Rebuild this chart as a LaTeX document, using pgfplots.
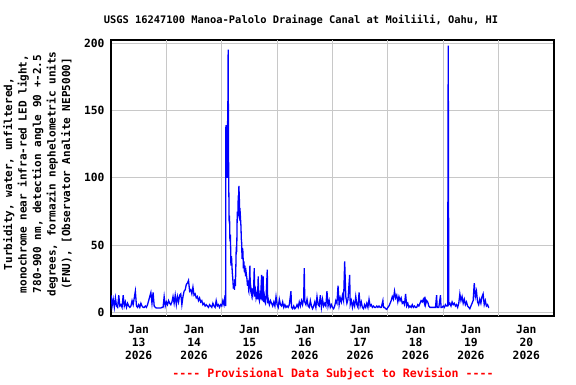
\documentclass[border=0pt]{standalone}
\usepackage{pgfplots}
\pgfplotsset{compat=1.18}
\usepackage{pgfplotstable}
\usepackage{fontspec}
\setmainfont{DejaVu Sans Mono}
\definecolor{gridgray}{HTML}{C8C8C8}
\pgfplotstableread{
x y
0.00 13
0.02 5
0.04 10
0.06 4
0.08 11
0.10 5
0.12 4
0.14 13
0.16 5
0.18 6
0.20 4
0.22 13
0.24 5
0.26 8
0.28 4
0.30 7
0.32 5
0.34 4
0.36 5
0.38 9
0.40 6
0.42 11
0.44 16
0.46 5
0.48 4
0.50 6
0.52 4
0.54 7
0.56 5
0.58 4
0.60 4
0.62 5
0.64 4
0.66 6
0.68 9
0.70 12
0.72 15
0.74 7
0.76 15
0.78 5
0.80 4
0.82 3.5
0.84 3.5
0.86 3.5
0.88 3.5
0.90 3.5
0.92 4
0.94 4
0.96 12
0.98 5
1.00 8
1.02 6
1.04 9
1.06 7
1.08 6
1.10 8
1.12 12
1.14 7
1.16 13
1.18 6
1.20 12
1.22 8
1.24 13
1.26 14
1.28 6
1.30 12
1.32 16
1.34 17
1.36 21
1.38 22
1.40 24
1.42 16
1.44 17
1.46 14
1.48 19
1.50 13
1.52 14
1.54 11
1.56 12
1.58 9
1.60 11
1.62 8
1.64 9
1.66 6
1.68 7
1.70 5
1.72 6
1.74 5
1.76 4
1.78 6
1.80 5
1.82 4
1.84 7
1.86 5
1.88 4
1.90 9
1.92 5
1.94 6
1.96 4
1.98 6
2.00 5
2.02 9
2.04 6
2.06 13
2.07 5
2.075 139
2.085 130
2.095 134
2.100 100
2.105 137
2.112 160
2.116 195
2.122 120
2.128 90
2.134 67
2.140 72
2.148 53
2.156 58
2.166 35
2.176 42
2.190 30
2.200 25
2.210 18
2.220 22
2.230 17
2.238 25
2.246 20
2.254 33
2.262 49
2.270 45
2.280 75
2.290 70
2.298 87
2.304 78
2.310 94
2.318 84
2.323 72
2.333 74
2.347 64
2.353 55
2.359 52
2.367 40
2.375 48
2.383 45
2.390 33
2.400 38
2.410 30
2.419 35
2.430 27
2.440 30
2.455 25
2.465 20
2.475 24
2.485 18
2.495 21
2.509 35
2.515 17
2.525 19
2.540 14
2.550 18
2.560 13
2.575 17
2.587 33
2.595 12
2.610 16
2.620 11
2.635 14
2.645 10
2.659 27
2.665 12
2.680 9
2.690 13
2.700 10
2.720 28
2.730 9
2.749 27
2.755 8
2.770 12
2.780 8
2.790 7
2.800 11
2.822 32
2.830 7
2.840 10
2.860 6
2.880 9
2.900 7
2.920 5
2.940 8
2.960 5
2.980 12
3.00 6
3.02 4
3.04 10
3.06 6
3.08 5
3.10 8
3.12 4
3.14 6
3.16 4
3.18 5
3.20 4
3.22 6
3.25 16
3.26 4
3.28 3
3.30 5
3.32 3
3.34 4
3.36 6
3.38 4
3.40 8
3.42 5
3.44 9
3.46 6
3.48 11
3.49 33
3.50 8
3.52 6
3.54 10
3.56 5
3.58 4
3.60 9
3.62 5
3.64 3
3.66 5
3.68 8
3.70 4
3.72 12
3.74 6
3.76 5
3.78 13
3.80 4
3.82 10
3.84 5
3.86 7
3.88 5
3.90 16
3.92 5
3.94 9
3.96 4
3.98 6
4.00 4
4.02 3
4.04 5
4.06 9
4.08 7
4.10 20
4.12 6
4.14 11
4.16 8
4.18 13
4.20 9
4.22 38
4.24 12
4.26 7
4.28 10
4.31 28
4.32 6
4.34 9
4.36 4
4.38 8
4.40 5
4.42 12
4.44 6
4.46 4
4.48 15
4.50 5
4.52 8
4.54 4
4.56 3
4.58 6
4.60 4
4.62 7
4.64 4
4.66 10
4.68 5
4.70 6
4.72 4
4.74 5
4.76 4
4.78 4
4.80 5
4.82 4
4.84 5
4.86 4
4.88 4
4.91 9
4.92 4
4.94 4
4.96 3
4.98 2.5
5.00 4
5.02 5
5.04 7
5.06 9
5.08 12
5.10 10
5.12 16
5.14 11
5.16 13
5.18 8
5.20 12
5.22 9
5.24 11
5.26 7
5.28 8
5.30 6
5.32 14
5.34 5
5.36 7
5.38 4
5.40 5
5.42 4
5.44 6
5.46 4
5.48 5
5.50 4
5.52 4
5.54 6
5.56 5
5.58 7
5.60 9
5.62 8
5.64 10
5.66 7
5.67 12
5.68 6
5.70 9
5.72 8
5.74 5
5.76 4
5.78 4
5.80 4
5.82 4
5.84 4
5.86 4
5.88 13
5.89 4
5.92 4
5.95 13
5.96 4
5.98 4
6.00 5
6.02 4
6.04 6
6.06 5
6.08 5
6.09 198
6.10 6
6.12 7
6.14 5
6.16 8
6.18 6
6.20 7
6.22 5
6.24 6
6.26 4
6.28 7
6.30 14
6.32 9
6.34 12
6.36 7
6.38 10
6.40 6
6.42 8
6.44 5
6.46 4
6.48 3
6.50 5
6.52 7
6.54 9
6.56 22
6.58 12
6.60 16
6.62 8
6.64 6
6.66 10
6.68 7
6.70 12
6.72 14
6.74 6
6.76 9
6.78 5
6.80 6
6.82 4
6.83 4
}\turb
\begin{document}
\begin{tikzpicture}[x=1pt,y=1pt]
\path[use as bounding box] (0,0) rectangle (576,384);
\begin{axis}[
  at={(111pt,68pt)}, anchor=south west,
  scale only axis, width=443pt, height=276pt,
  xmin=0, xmax=8, ymin=-2.4, ymax=202.2,
  axis line style={line width=1.4pt, black},
  major tick length=0pt,
  xtick={0.5,1.5,2.5,3.5,4.5,5.5,6.5,7.5},
  xticklabels={{Jan\\13\\2026},{Jan\\14\\2026},{Jan\\15\\2026},{Jan\\16\\2026},{Jan\\17\\2026},{Jan\\18\\2026},{Jan\\19\\2026},{Jan\\20\\2026}},
  xticklabel style={align=center, font=\bfseries\fontsize{11.3}{13}\selectfont, yshift=-6pt},
  extra x ticks={1,2,3,4,5,6,7},
  extra x tick labels={},
  extra x tick style={grid=major, major tick length=0pt},
  ytick={0,50,100,150,200},
  yticklabel style={font=\bfseries\fontsize{11.3}{13}\selectfont, xshift=-3pt},
  /pgf/number format/assume math mode=true,
  ymajorgrids,
  grid style={gridgray, line width=0.8pt},
  clip=true,
]
\addplot[color={rgb,255:red,0;green,0;blue,255}, line width=1.3pt, mark=none] table[x=x,y=y] {\turb};
\end{axis}
\node[font=\fontsize{10.4}{12}\selectfont\bfseries] at (301,364) {USGS 16247100 Manoa-Palolo Drainage Canal at Moiliili, Oahu, HI};
\node[font=\bfseries\fontsize{11}{14.5}\selectfont, align=center, rotate=90] at (37.5,210) {Turbidity, water, unfiltered,\\monochrome near infra-red LED light,\\780-900 nm, detection angle 90 +-2.5\\degrees, formazin nephelometric units\\(FNU), [Observator Analite NEP5000]};
\node[font=\bfseries\fontsize{11.6}{13}\selectfont, text=red] at (333,9.7) {{-}{-}{-}{-} Provisional Data Subject to Revision {-}{-}{-}{-}};
\end{tikzpicture}
\end{document}
